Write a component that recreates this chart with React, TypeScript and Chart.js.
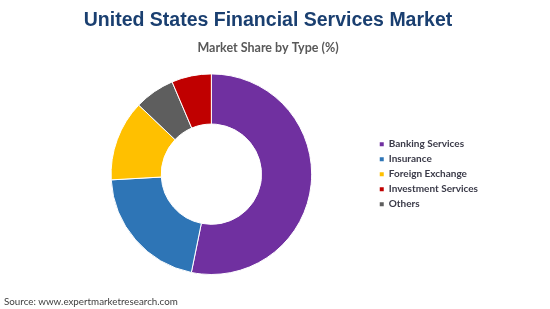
import React, { useEffect, useRef } from "react";
import { Chart, registerables } from "chart.js";

Chart.register(...registerables);

const titleText = "United States Financial Services Market";
const subtitleText = "Market Share by Type (%)";
const sourceText = "Source: www.expertmarketresearch.com";

// drawing order (clockwise from top)
const categories = ["Banking Services", "Insurance", "Foreign Exchange", "Others", "Investment Services"];
const shares = [53.2, 20.9, 13.0, 6.5, 6.4];
const colors = ["#7030A0", "#2E75B6", "#FFC000", "#5E5E5E", "#C00000"];
// legend order as shown in the picture
const legendOrder = ["Banking Services", "Insurance", "Foreign Exchange", "Investment Services", "Others"];

export default function App() {
  const ref = useRef<HTMLCanvasElement | null>(null);

  useEffect(() => {
    if (!ref.current) return;
    const chart = new Chart(ref.current, {
      type: "doughnut",
      data: {
        labels: categories,
        datasets: [
          {
            data: shares,
            backgroundColor: colors,
            borderColor: "#ffffff",
            borderWidth: 1,
          },
        ],
      },
      options: {
        responsive: false,
        animation: false,
        cutout: "50%",
        layout: { padding: { left: 48, right: 62, top: 0, bottom: 34 } },
        plugins: {
          tooltip: { enabled: false },
          title: {
            display: true,
            text: titleText,
            color: "#1A3F70",
            font: { family: "'Liberation Sans', Arial, sans-serif", size: 19.5, weight: "bold" },
            padding: { top: 9, bottom: 0 },
          },
          subtitle: {
            display: true,
            text: subtitleText,
            color: "#595959",
            font: { family: "Lato, 'Open Sans', sans-serif", size: 12.5, weight: "bold" },
            padding: { top: 8, bottom: 18 },
          },
          legend: {
            display: true,
            position: "right",
            fullSize: false,
            labels: {
              boxWidth: 4,
              boxHeight: 4,
              padding: 5,
              color: "#3A3A48",
              font: { family: "Lato, 'Open Sans', sans-serif", size: 10, weight: "bold" },
              sort: (a: any, b: any) =>
                legendOrder.indexOf(a.text) - legendOrder.indexOf(b.text),
              generateLabels: (c: any) => {
                const items = Chart.overrides.doughnut.plugins.legend.labels.generateLabels(c);
                return items.map((it: any) => ({ ...it, strokeStyle: it.fillStyle, lineWidth: 0 }));
              },
            },
          },
        },
      },
    });
    return () => chart.destroy();
  }, []);

  return (
    <div style={{ position: "absolute", left: 0, top: 0, width: 550, height: 309, background: "#fff" }}>
      <canvas ref={ref} width={550} height={309} style={{ display: "block" }} />
      <div
        style={{
          position: "absolute",
          left: 4,
          top: 295,
          fontFamily: "Lato, 'Open Sans', sans-serif",
          fontSize: 9.8,
          color: "#404040",
          whiteSpace: "nowrap",
        }}
      >
        {sourceText}
      </div>
    </div>
  );
}
